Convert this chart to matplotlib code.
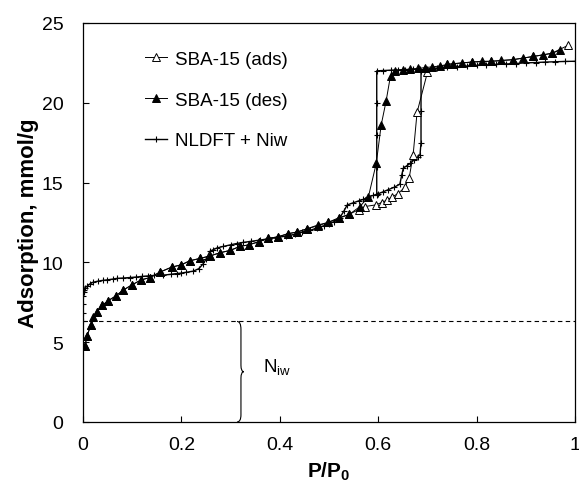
import matplotlib
matplotlib.use("Agg")
import matplotlib.pyplot as plt
from matplotlib.path import Path
from matplotlib.patches import PathPatch

plt.rcParams['font.family'] = ['Liberation Sans', 'DejaVu Sans']
plt.rcParams['mathtext.fontset'] = 'custom'
plt.rcParams['mathtext.rm'] = 'Liberation Sans'
plt.rcParams['mathtext.bf'] = 'Liberation Sans:bold'

# SBA-15 adsorption (open triangles)
ads_p = [0.004, 0.008, 0.016, 0.028, 0.039, 0.051, 0.067, 0.081, 0.100, 0.118,
         0.136, 0.157, 0.180, 0.200, 0.217, 0.238, 0.258, 0.278, 0.299, 0.319,
         0.337, 0.358, 0.376, 0.396, 0.417, 0.435, 0.455, 0.478, 0.498, 0.520,
         0.540, 0.560, 0.573, 0.595, 0.607, 0.618, 0.628, 0.640, 0.654, 0.663,
         0.671, 0.679, 0.700, 0.740, 0.790, 0.830, 0.874, 0.915, 0.953, 0.986]
ads_n = [4.75, 5.4, 6.06, 6.9, 7.3, 7.6, 7.9, 8.25, 8.6, 8.9,
         9.05, 9.4, 9.7, 9.85, 10.1, 10.25, 10.4, 10.6, 10.75, 11.0,
         11.1, 11.3, 11.5, 11.6, 11.8, 11.9, 12.1, 12.3, 12.5, 12.75,
         13.0, 13.3, 13.5, 13.6, 13.75, 13.9, 14.1, 14.3, 14.7, 15.3,
         16.75, 19.4, 21.9, 22.4, 22.55, 22.6, 22.7, 22.9, 23.1, 23.6]

# SBA-15 desorption (filled triangles)
des_p = [0.004, 0.008, 0.016, 0.020, 0.028, 0.039, 0.051, 0.067, 0.081, 0.100,
         0.118, 0.136, 0.157, 0.180, 0.200, 0.217, 0.238, 0.258, 0.278, 0.299,
         0.319, 0.337, 0.358, 0.376, 0.396, 0.417, 0.435, 0.455, 0.478, 0.498,
         0.520, 0.541, 0.563, 0.580, 0.596, 0.606, 0.616, 0.625, 0.635, 0.650,
         0.665, 0.680, 0.695, 0.710, 0.725, 0.740, 0.752, 0.770, 0.790, 0.810,
         0.830, 0.850, 0.874, 0.894, 0.915, 0.935, 0.953, 0.970]
des_n = [4.75, 5.4, 6.06, 6.55, 6.9, 7.3, 7.6, 7.9, 8.25, 8.6,
         8.9, 9.05, 9.4, 9.7, 9.85, 10.1, 10.25, 10.4, 10.6, 10.75,
         11.0, 11.1, 11.3, 11.5, 11.6, 11.8, 11.9, 12.1, 12.35, 12.5,
         12.8, 13.0, 13.5, 14.1, 16.2, 18.6, 20.1, 21.7, 22.0, 22.05,
         22.1, 22.15, 22.2, 22.25, 22.3, 22.4, 22.45, 22.5, 22.55, 22.6,
         22.6, 22.65, 22.7, 22.8, 22.9, 23.0, 23.1, 23.3]

# NLDFT + Niw, adsorption branch
nl_ads_p = [0.0, 0.0, 0.0, 0.0, 0.001, 0.002, 0.004, 0.008, 0.014, 0.020,
            0.030, 0.040, 0.048, 0.060, 0.070, 0.082, 0.095, 0.108, 0.120, 0.132,
            0.145, 0.163, 0.178, 0.190, 0.200, 0.210, 0.224, 0.235, 0.244, 0.250,
            0.258, 0.265, 0.272, 0.285, 0.300, 0.312, 0.325, 0.342, 0.360, 0.377,
            0.394, 0.412, 0.430, 0.445, 0.461, 0.475, 0.490, 0.500, 0.510, 0.522,
            0.530, 0.537, 0.548, 0.560, 0.570, 0.580, 0.590, 0.600, 0.610, 0.620,
            0.632, 0.644, 0.648, 0.651, 0.658, 0.665, 0.672, 0.680, 0.685, 0.687,
            0.687, 0.687, 0.700, 0.720, 0.740, 0.760, 0.780, 0.800, 0.820, 0.840,
            0.860, 0.880, 0.900, 0.920, 0.940, 0.960, 0.980, 1.000]
nl_ads_n = [6.3, 6.8, 7.4, 7.9, 8.15, 8.3, 8.4, 8.5, 8.65, 8.75,
            8.82, 8.87, 8.9, 8.95, 9.0, 9.02, 9.05, 9.08, 9.12, 9.15,
            9.18, 9.2, 9.25, 9.3, 9.33, 9.38, 9.45, 9.6, 9.9, 10.2,
            10.7, 10.8, 10.9, 11.0, 11.1, 11.18, 11.25, 11.32, 11.4, 11.48,
            11.55, 11.65, 11.75, 11.9, 12.0, 12.15, 12.3, 12.4, 12.55, 12.8,
            13.2, 13.6, 13.72, 13.85, 13.95, 14.1, 14.2, 14.3, 14.42, 14.55,
            14.7, 14.9, 15.5, 15.9, 16.05, 16.2, 16.4, 16.6, 16.75, 17.5,
            19.5, 22.0, 22.12, 22.18, 22.22, 22.26, 22.3, 22.34, 22.37, 22.4,
            22.43, 22.46, 22.5, 22.52, 22.55, 22.57, 22.59, 22.6]

# NLDFT + Niw, desorption branch
nl_des_p = [0.597, 0.597, 0.597, 0.597, 0.597, 0.610, 0.625, 0.640, 0.655, 0.670, 0.685]
nl_des_n = [14.25, 16.0, 18.0, 20.0, 22.0, 22.02, 22.04, 22.06, 22.08, 22.1, 22.12]

n_iw = 6.3

fig = plt.figure(figsize=(5.79, 4.89), dpi=100)
ax = fig.add_axes([0.1434, 0.135, 0.8497, 0.816])

ax.axhline(n_iw, color='black', lw=0.8, ls=(0, (4, 3)))

ax.plot(nl_ads_p, nl_ads_n, color='black', lw=1.0, marker='+', ms=4, mew=0.8,
        label='NLDFT + Niw', zorder=2)
ax.plot(nl_des_p, nl_des_n, color='black', lw=1.0, marker='+', ms=4, mew=0.8, zorder=2)
ax.plot(ads_p, ads_n, color='black', lw=0.7, marker='^', ms=5.5, mfc='white',
        mec='black', mew=0.7, label='SBA-15 (ads)', zorder=3)
ax.plot(des_p, des_n, color='black', lw=0.7, marker='^', ms=5.5, mfc='black',
        mec='black', mew=0.7, label='SBA-15 (des)', zorder=4)

# curly brace marking N_iw
bx, tip = 0.321, 0.327
verts = [(0.313, n_iw), (bx, n_iw), (bx, n_iw - 0.5),
         (bx, n_iw / 2 + 0.4),
         (bx, n_iw / 2), (tip, n_iw / 2),
         (bx, n_iw / 2), (bx, n_iw / 2 - 0.4),
         (bx, 0.45),
         (bx, 0.0), (0.313, 0.0)]
codes = [Path.MOVETO, Path.CURVE3, Path.CURVE3, Path.LINETO,
         Path.CURVE3, Path.CURVE3, Path.CURVE3, Path.CURVE3,
         Path.LINETO, Path.CURVE3, Path.CURVE3]
ax.add_patch(PathPatch(Path(verts, codes), fc='none', ec='black', lw=0.8))
ax.text(0.366, 3.45, r'N$_{\mathrm{iw}}$', fontsize=13.5, ha='left', va='center')

ax.set_xlim(0, 1)
ax.set_ylim(0, 25)
ax.set_xticks([0, 0.2, 0.4, 0.6, 0.8, 1])
ax.set_xticklabels(['0', '0.2', '0.4', '0.6', '0.8', '1'])
ax.set_yticks([0, 5, 10, 15, 20, 25])
ax.tick_params(direction='in', length=4, width=0.8, labelsize=14)
ax.tick_params(axis='x', pad=10)
ax.tick_params(axis='y', pad=14)
for s in ax.spines.values():
    s.set_linewidth(0.9)

ax.set_xlabel(r'P/P$_{\mathbf{0}}$', fontsize=15, fontweight='bold', labelpad=5)
ax.set_ylabel('Adsorption, mmol/g', fontsize=16, fontweight='bold', labelpad=2)

h, l = ax.get_legend_handles_labels()
order = [1, 2, 0]
ax.legend([h[i] for i in order], [l[i] for i in order], loc='upper left',
          bbox_to_anchor=(0.125, 0.93), frameon=False, fontsize=13.5,
          handlelength=1.2, handletextpad=0.4, labelspacing=1.25,
          borderpad=0, borderaxespad=0)

fig.savefig('out.png', dpi=100)
